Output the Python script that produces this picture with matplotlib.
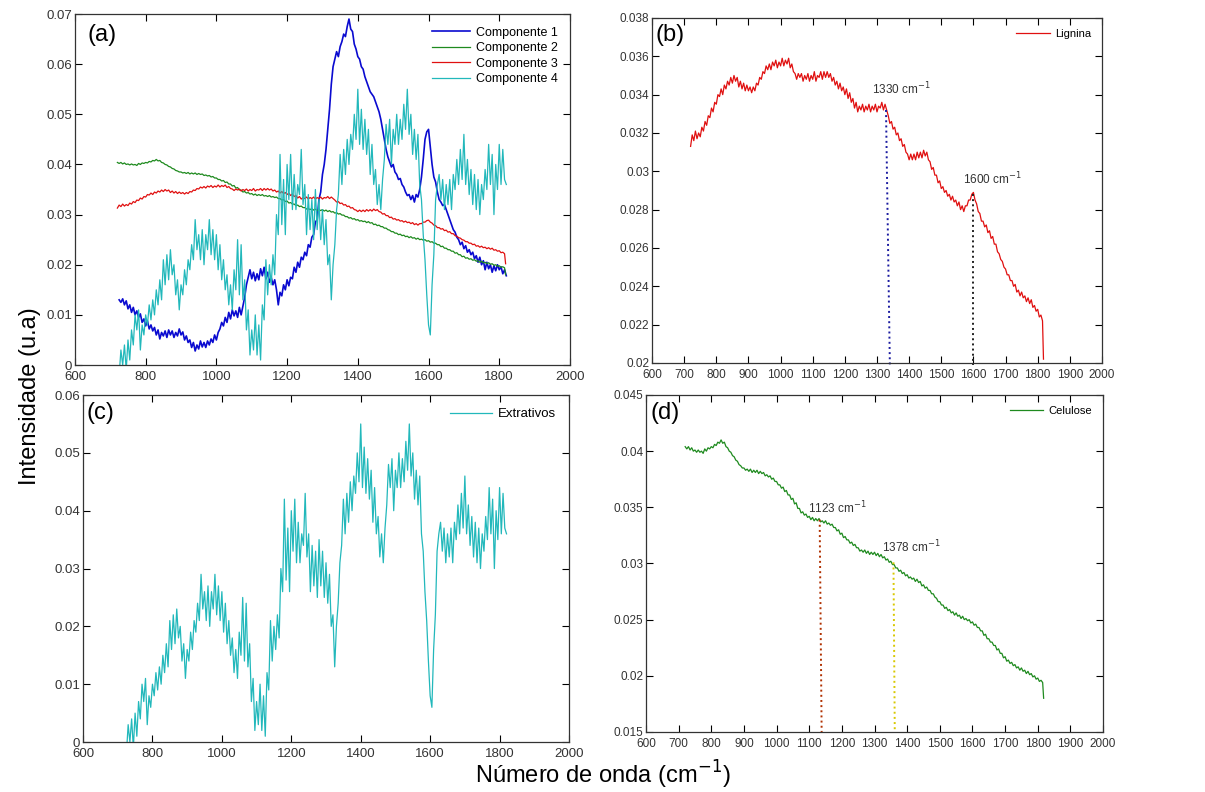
import numpy as np
import matplotlib
matplotlib.use("Agg")
import matplotlib.pyplot as plt
from matplotlib.ticker import FuncFormatter

plt.rcParams['font.family'] = ['Liberation Sans', 'DejaVu Sans']

# ---------------- data ----------------
# Componente 1 (blue), sampled every 5 cm-1 from 725 to 1820
comp1_x = np.arange(725, 1821, 5)
comp1_y = [
    0.0130, 0.0125, 0.0132, 0.0120, 0.0128, 0.0112, 0.0120, 0.0105, 0.0115, 0.0100,
    0.0108, 0.0095, 0.0102, 0.0085, 0.0092, 0.0078, 0.0088, 0.0072, 0.0080, 0.0068,
    0.0075, 0.0060, 0.0070, 0.0052, 0.0065, 0.0058, 0.0068, 0.0055, 0.0070, 0.0060,
    0.0068, 0.0055, 0.0065, 0.0058, 0.0072, 0.0060, 0.0066, 0.0050, 0.0058, 0.0045,
    0.0050, 0.0035, 0.0045, 0.0028, 0.0040, 0.0032, 0.0048, 0.0036, 0.0045, 0.0035,
    0.0048, 0.0040, 0.0052, 0.0045, 0.0060, 0.0050, 0.0065, 0.0072, 0.0085, 0.0078,
    0.0095, 0.0085, 0.0105, 0.0092, 0.0110, 0.0098, 0.0108, 0.0095, 0.0115, 0.0100,
    0.0118, 0.0135, 0.0160, 0.0175, 0.0190, 0.0172, 0.0185, 0.0168, 0.0182, 0.0170,
    0.0192, 0.0178, 0.0195, 0.0172, 0.0185, 0.0165, 0.0175, 0.0160, 0.0170, 0.0150,
    0.0120, 0.0145, 0.0138, 0.0160, 0.0150, 0.0170, 0.0158, 0.0175, 0.0172, 0.0195,
    0.0185, 0.0205, 0.0195, 0.0215, 0.0210, 0.0225, 0.0218, 0.0240, 0.0235, 0.0255,
    0.0260, 0.0285, 0.0290, 0.0330, 0.0345, 0.0380, 0.0400, 0.0430, 0.0470, 0.0510,
    0.0560, 0.0595, 0.0610, 0.0625, 0.0615, 0.0635, 0.0645, 0.0660, 0.0655, 0.0675,
    0.0690, 0.0670, 0.0665, 0.0640, 0.0630, 0.0615, 0.0610, 0.0595, 0.0590, 0.0575,
    0.0565, 0.0555, 0.0545, 0.0540, 0.0535, 0.0525, 0.0515, 0.0505, 0.0490, 0.0470,
    0.0450, 0.0430, 0.0415, 0.0405, 0.0395, 0.0400, 0.0385, 0.0380, 0.0370, 0.0372,
    0.0360, 0.0355, 0.0345, 0.0338, 0.0340, 0.0330, 0.0338, 0.0325, 0.0340, 0.0335,
    0.0350, 0.0375, 0.0410, 0.0450, 0.0465, 0.0470, 0.0435, 0.0400, 0.0375, 0.0365,
    0.0345, 0.0330, 0.0325, 0.0318, 0.0320, 0.0310, 0.0300, 0.0290, 0.0280, 0.0270,
    0.0265, 0.0255, 0.0250, 0.0240, 0.0245, 0.0232, 0.0238, 0.0225, 0.0230, 0.0220,
    0.0225, 0.0212, 0.0218, 0.0205, 0.0215, 0.0200, 0.0208, 0.0190, 0.0205, 0.0192,
    0.0200, 0.0185, 0.0198, 0.0188, 0.0200, 0.0190, 0.0196, 0.0182, 0.0190, 0.0178,
]

# Componente 4 / Extrativos (cyan), every 5 cm-1 from 725 to 1820
extr_x = np.arange(725, 1821, 5)
extr_y = [
    -0.002, 0.003, 0.000, 0.004, -0.001, 0.005, 0.001, 0.007, 0.004, 0.010,
    0.007, 0.011, 0.003, 0.008, 0.006, 0.010, 0.008, 0.012, 0.009, 0.013,
    0.010, 0.015, 0.012, 0.017, 0.013, 0.021, 0.016, 0.022, 0.017, 0.023,
    0.018, 0.020, 0.014, 0.017, 0.011, 0.016, 0.014, 0.019, 0.016, 0.021,
    0.019, 0.024, 0.021, 0.029, 0.023, 0.026, 0.021, 0.027, 0.020, 0.026,
    0.023, 0.029, 0.022, 0.027, 0.021, 0.026, 0.019, 0.024, 0.017, 0.021,
    0.015, 0.018, 0.012, 0.016, 0.011, 0.019, 0.015, 0.025, 0.014, 0.024,
    0.013, 0.017, 0.007, 0.011, 0.002, 0.007, 0.003, 0.010, 0.002, 0.008,
    0.001, 0.012, 0.009, 0.021, 0.014, 0.020, 0.016, 0.022, 0.018, 0.030,
    0.026, 0.042, 0.028, 0.037, 0.026, 0.040, 0.033, 0.042, 0.031, 0.038,
    0.031, 0.036, 0.034, 0.043, 0.032, 0.036, 0.026, 0.034, 0.027, 0.033,
    0.025, 0.035, 0.027, 0.033, 0.025, 0.031, 0.024, 0.029, 0.020, 0.022,
    0.013, 0.020, 0.024, 0.031, 0.034, 0.042, 0.036, 0.043, 0.038, 0.045,
    0.040, 0.046, 0.043, 0.050, 0.045, 0.055, 0.044, 0.051, 0.043, 0.049,
    0.042, 0.047, 0.038, 0.044, 0.036, 0.039, 0.032, 0.036, 0.031, 0.037,
    0.041, 0.048, 0.044, 0.049, 0.040, 0.047, 0.044, 0.050, 0.044, 0.049,
    0.045, 0.052, 0.047, 0.055, 0.046, 0.050, 0.042, 0.047, 0.041, 0.046,
    0.036, 0.033, 0.026, 0.021, 0.014, 0.008, 0.006, 0.016, 0.022, 0.033,
    0.036, 0.038, 0.033, 0.037, 0.031, 0.036, 0.032, 0.037, 0.031, 0.038,
    0.035, 0.041, 0.036, 0.043, 0.037, 0.046, 0.036, 0.041, 0.034, 0.039,
    0.032, 0.038, 0.031, 0.037, 0.030, 0.036, 0.033, 0.039, 0.035, 0.044,
    0.036, 0.042, 0.030, 0.040, 0.035, 0.044, 0.036, 0.043, 0.037, 0.036,
]

# Componente 3 / Lignina (red), every 5 cm-1 from 720 to 1815, then the end drop
lig_x = list(range(720, 1816, 5)) + [1818]
lig_y = [
    0.0313, 0.0319, 0.0316, 0.0321, 0.0317, 0.0320, 0.0318, 0.0323, 0.0321, 0.0326,
    0.0324, 0.0329, 0.0328, 0.0333, 0.0331, 0.0336, 0.0335, 0.0340, 0.0339, 0.0343,
    0.0340, 0.0345, 0.0343, 0.0347, 0.0345, 0.0349, 0.0346, 0.0350, 0.0347, 0.0349,
    0.0344, 0.0347, 0.0343, 0.0346, 0.0342, 0.0345, 0.0342, 0.0344, 0.0341, 0.0344,
    0.0342, 0.0346, 0.0345, 0.0349, 0.0348, 0.0352, 0.0351, 0.0355, 0.0353, 0.0356,
    0.0353, 0.0357, 0.0355, 0.0358, 0.0354, 0.0357, 0.0355, 0.0359, 0.0355, 0.0358,
    0.0356, 0.0359, 0.0354, 0.0356, 0.0352, 0.0351, 0.0348, 0.0351, 0.0349, 0.0351,
    0.0347, 0.0350, 0.0348, 0.0351, 0.0347, 0.0350, 0.0348, 0.0352, 0.0347, 0.0350,
    0.0349, 0.0352, 0.0348, 0.0352, 0.0349, 0.0352, 0.0349, 0.0351, 0.0347, 0.0349,
    0.0345, 0.0347, 0.0343, 0.0346, 0.0342, 0.0344, 0.0340, 0.0343, 0.0338, 0.0341,
    0.0336, 0.0338, 0.0333, 0.0336, 0.0331, 0.0334, 0.0332, 0.0335, 0.0331, 0.0334,
    0.0332, 0.0335, 0.0331, 0.0334, 0.0332, 0.0335, 0.0331, 0.0334, 0.0333, 0.0336,
    0.0332, 0.0335, 0.0332, 0.0329, 0.0325, 0.0326, 0.0322, 0.0323, 0.0319, 0.0320,
    0.0316, 0.0317, 0.0313, 0.0314, 0.0310, 0.0309, 0.0306, 0.0309, 0.0306, 0.0309,
    0.0306, 0.0310, 0.0307, 0.0310, 0.0307, 0.0311, 0.0308, 0.0310, 0.0306, 0.0305,
    0.0301, 0.0302, 0.0298, 0.0298, 0.0294, 0.0295, 0.0291, 0.0292, 0.0289, 0.0290,
    0.0287, 0.0288, 0.0285, 0.0287, 0.0284, 0.0285, 0.0282, 0.0284, 0.0280, 0.0282,
    0.0279, 0.0282, 0.0282, 0.0285, 0.0285, 0.0288, 0.0289, 0.0285, 0.0283, 0.0279,
    0.0278, 0.0274, 0.0274, 0.0271, 0.0272, 0.0268, 0.0269, 0.0265, 0.0266, 0.0262,
    0.0262, 0.0258, 0.0257, 0.0254, 0.0253, 0.0250, 0.0249, 0.0246, 0.0246, 0.0243,
    0.0243, 0.0240, 0.0241, 0.0237, 0.0238, 0.0235, 0.0237, 0.0234, 0.0235, 0.0232,
    0.0234, 0.0231, 0.0233, 0.0229, 0.0230, 0.0227, 0.0228, 0.0224, 0.0225, 0.0222,
    0.0202,
]

# Componente 2 / Celulose (green), every 5 cm-1 from 720 to 1815, then the end drop
cel_x = list(range(720, 1816, 5)) + [1818]
cel_y = [
    0.0404, 0.0402, 0.0404, 0.0401, 0.0403, 0.0400, 0.0401, 0.0399, 0.0401, 0.0399,
    0.0400, 0.0398, 0.0402, 0.0400, 0.0403, 0.0402, 0.0404, 0.0403, 0.0406, 0.0405,
    0.0408, 0.0407, 0.0410, 0.0407, 0.0408, 0.0404, 0.0403, 0.0400, 0.0399, 0.0396,
    0.0395, 0.0392, 0.0391, 0.0388, 0.0387, 0.0385, 0.0385, 0.0383, 0.0384, 0.0382,
    0.0384, 0.0381, 0.0383, 0.0381, 0.0383, 0.0380, 0.0382, 0.0380, 0.0381, 0.0378,
    0.0379, 0.0377, 0.0378, 0.0375, 0.0376, 0.0373, 0.0373, 0.0370, 0.0370, 0.0367,
    0.0368, 0.0364, 0.0365, 0.0361, 0.0361, 0.0357, 0.0358, 0.0353, 0.0354, 0.0349,
    0.0349, 0.0345, 0.0346, 0.0343, 0.0344, 0.0341, 0.0342, 0.0339, 0.0341, 0.0338,
    0.0340, 0.0338, 0.0340, 0.0337, 0.0338, 0.0336, 0.0338, 0.0335, 0.0336, 0.0334,
    0.0335, 0.0332, 0.0332, 0.0329, 0.0330, 0.0326, 0.0327, 0.0323, 0.0324, 0.0321,
    0.0321, 0.0318, 0.0319, 0.0316, 0.0317, 0.0314, 0.0314, 0.0311, 0.0312, 0.0310,
    0.0312, 0.0309, 0.0311, 0.0308, 0.0310, 0.0308, 0.0310, 0.0307, 0.0309, 0.0306,
    0.0308, 0.0305, 0.0306, 0.0303, 0.0304, 0.0301, 0.0302, 0.0299, 0.0299, 0.0296,
    0.0296, 0.0293, 0.0294, 0.0291, 0.0292, 0.0289, 0.0290, 0.0287, 0.0288, 0.0286,
    0.0287, 0.0284, 0.0286, 0.0283, 0.0284, 0.0280, 0.0281, 0.0278, 0.0279, 0.0276,
    0.0276, 0.0273, 0.0273, 0.0270, 0.0269, 0.0266, 0.0266, 0.0263, 0.0263, 0.0260,
    0.0261, 0.0258, 0.0259, 0.0256, 0.0257, 0.0254, 0.0256, 0.0253, 0.0254, 0.0251,
    0.0253, 0.0250, 0.0251, 0.0249, 0.0250, 0.0247, 0.0248, 0.0245, 0.0246, 0.0243,
    0.0243, 0.0240, 0.0240, 0.0236, 0.0237, 0.0233, 0.0233, 0.0230, 0.0230, 0.0227,
    0.0227, 0.0223, 0.0224, 0.0220, 0.0220, 0.0216, 0.0217, 0.0213, 0.0214, 0.0211,
    0.0212, 0.0209, 0.0210, 0.0207, 0.0208, 0.0205, 0.0207, 0.0204, 0.0205, 0.0202,
    0.0204, 0.0201, 0.0202, 0.0199, 0.0200, 0.0197, 0.0198, 0.0195, 0.0196, 0.0194,
    0.0180,
]

# marker lines (top x, bottom x, top y) and labels
lig_marks_x_top = [1328, 1600]
lig_marks_x_bot = [1340, 1600]
lig_marks_y = [0.0332, 0.0288]
lig_marks_col = ['#1a1aa0', '#202020']
lig_labels = ['1330 cm$^{-1}$', '1600 cm$^{-1}$']
lig_label_pos = [(1283, 0.0343), (1568, 0.0296)]

cel_marks_x_top = [1132, 1358]
cel_marks_x_bot = [1138, 1362]
cel_marks_y = [0.0339, 0.0301]
cel_marks_col = ['#b03000', '#d8c800']
cel_labels = ['1123 cm$^{-1}$', '1378 cm$^{-1}$']
cel_label_pos = [(1097, 0.0349), (1322, 0.0315)]

C_BLUE = '#0a0ad0'
C_GREEN = '#1e8a1e'
C_RED = '#e01010'
C_CYAN = '#22b8bb'

# ---------------- figure ----------------
fig = plt.figure(figsize=(12.05, 7.92), dpi=100)
ax_a = fig.add_axes([0.0622, 0.5391, 0.4108, 0.4432])
ax_b = fig.add_axes([0.5411, 0.5417, 0.3734, 0.4356])
ax_c = fig.add_axes([0.0689, 0.0631, 0.4033, 0.4381])
ax_d = fig.add_axes([0.5361, 0.0758, 0.3793, 0.4255])

fmt = FuncFormatter(lambda v, p: ('%g' % round(v, 6)))


def style(ax, xticks, yticks, ylim, fs):
    ax.set_xlim(600, 2000)
    ax.set_ylim(*ylim)
    ax.set_xticks(xticks)
    ax.set_yticks(yticks)
    ax.yaxis.set_major_formatter(fmt)
    ax.tick_params(direction='in', top=True, right=True, length=5, width=0.8,
                   labelsize=fs, labelcolor='#333333', pad=2)
    ax.tick_params(axis='x', pad=4)
    for s in ax.spines.values():
        s.set_linewidth(0.9)
        s.set_color('#333333')


# (a)
ax_a.plot(comp1_x, comp1_y, color=C_BLUE, lw=1.2, label='Componente 1')
ax_a.plot(cel_x, cel_y, color=C_GREEN, lw=0.9, label='Componente 2')
ax_a.plot(lig_x, lig_y, color=C_RED, lw=0.9, label='Componente 3')
ax_a.plot(extr_x, extr_y, color=C_CYAN, lw=0.9, label='Componente 4')
style(ax_a, np.arange(600, 2001, 200), np.arange(0, 0.0701, 0.01), (0, 0.07), 9.5)
ax_a.legend(loc='upper right', frameon=False, fontsize=9, handlelength=3.0,
            labelspacing=0.28, borderaxespad=0.6, handletextpad=0.45)
ax_a.text(0.025, 0.94, '(a)', transform=ax_a.transAxes, fontsize=17, va='center')

# (b)
ax_b.plot(lig_x, lig_y, color=C_RED, lw=0.9, label='Lignina')
for xt, xb, yt, c in zip(lig_marks_x_top, lig_marks_x_bot, lig_marks_y, lig_marks_col):
    ax_b.plot([xt, xb], [yt, 0.0199], ls=':', color=c, lw=1.4, clip_on=False)
for lab, (tx, ty) in zip(lig_labels, lig_label_pos):
    ax_b.text(tx, ty, lab, fontsize=8.5, color='#333333', va='center')
style(ax_b, np.arange(600, 2001, 100), np.arange(0.02, 0.0381, 0.002), (0.02, 0.038), 8.5)
ax_b.legend(loc='upper right', frameon=False, fontsize=8, handlelength=3.0,
            borderaxespad=0.6, handletextpad=0.45)
ax_b.text(0.008, 0.95, '(b)', transform=ax_b.transAxes, fontsize=17, va='center')

# (c)
ax_c.plot(extr_x, extr_y, color=C_CYAN, lw=0.9, label='Extrativos')
style(ax_c, np.arange(600, 2001, 200), np.arange(0, 0.0601, 0.01), (0, 0.06), 9.5)
ax_c.legend(loc='upper right', frameon=False, fontsize=9.5, handlelength=3.2,
            borderaxespad=0.6, handletextpad=0.45)
ax_c.text(0.008, 0.948, '(c)', transform=ax_c.transAxes, fontsize=17, va='center')

# (d)
ax_d.plot(cel_x, cel_y, color=C_GREEN, lw=0.9, label='Celulose')
for xt, xb, yt, c in zip(cel_marks_x_top, cel_marks_x_bot, cel_marks_y, cel_marks_col):
    ax_d.plot([xt, xb], [yt, 0.015], ls=':', color=c, lw=1.4)
for lab, (tx, ty) in zip(cel_labels, cel_label_pos):
    ax_d.text(tx, ty, lab, fontsize=8.5, color='#333333', va='center')
style(ax_d, np.arange(600, 2001, 100), np.arange(0.015, 0.0451, 0.005), (0.015, 0.045), 8.5)
ax_d.legend(loc='upper right', frameon=False, fontsize=8, handlelength=3.0,
            borderaxespad=0.6, handletextpad=0.45)
ax_d.text(0.009, 0.947, '(d)', transform=ax_d.transAxes, fontsize=17, va='center')

fig.text(0.025, 0.5, 'Intensidade (u.a)', rotation=90, fontsize=17,
         ha='center', va='center')
fig.text(0.5, 0.021, 'Número de onda (cm$^{-1}$)', fontsize=17,
         ha='center', va='center')

fig.savefig('out.png', dpi=100)
